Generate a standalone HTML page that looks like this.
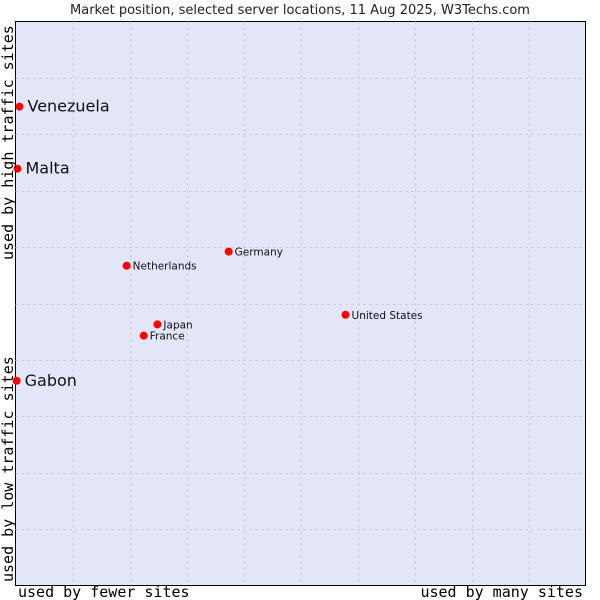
<!DOCTYPE html>
<html><head><meta charset="utf-8"><style>
body{margin:0;background:#fff;width:600px;height:600px;overflow:hidden}
svg{display:block}
</style></head><body>
<svg id="chart" width="600" height="600">
<text x="300" y="14" text-anchor="middle" font-family="DejaVu Sans, sans-serif" font-size="13" fill="#222">Market position, selected server locations, 11 Aug 2025, W3Techs.com</text>
<rect x="15.5" y="21.5" width="570" height="564" fill="#e3e5f8" stroke="#000" stroke-width="1"/>
<g id="grid"></g>
<g id="points"></g>
<text x="18" y="597" font-family="DejaVu Sans Mono, monospace" font-size="15" fill="#000">used by fewer sites</text>
<text x="583" y="597" text-anchor="end" font-family="DejaVu Sans Mono, monospace" font-size="15" fill="#000">used by many sites</text>
<text transform="translate(13,260) rotate(-90)" font-family="DejaVu Sans Mono, monospace" font-size="15" fill="#000">used by high traffic sites</text>
<text transform="translate(13,582) rotate(-90)" font-family="DejaVu Sans Mono, monospace" font-size="15" fill="#000">used by low traffic sites</text>
</svg>
<script>
const countries=["Venezuela","Malta","Gabon","Germany","Netherlands","United States","Japan","France"];
const xValues=[0.7,0.35,0.2,37.4,19.5,57.9,24.9,22.5];
const yValues=[84.9,73.9,36.3,59.2,56.7,48.0,46.3,44.3];
const bigLabel=[true,true,true,false,false,false,false,false];
const L=15.5,R=585.5,T=21.5,B=585.5;
const sx=v=>L+v/100*(R-L);
const sy=v=>B-v/100*(B-T);
const ns="http://www.w3.org/2000/svg";
const grid=document.getElementById('grid');
for(let i=1;i<10;i++){
  const v=document.createElementNS(ns,'line');
  const x=Math.round(sx(i*10))+0.5;
  v.setAttribute('x1',x);v.setAttribute('x2',x);v.setAttribute('y1',T);v.setAttribute('y2',B);
  v.setAttribute('stroke','#c4c4c8');v.setAttribute('stroke-dasharray','2,4');
  
  
  grid.appendChild(v);
  const h=document.createElementNS(ns,'line');
  const y=Math.round(sy(i*10))+0.5;
  h.setAttribute('y1',y);h.setAttribute('y2',y);h.setAttribute('x1',L);h.setAttribute('x2',R);
  h.setAttribute('stroke','#c4c4c8');h.setAttribute('stroke-dasharray','2,4');
  
  
  grid.appendChild(h);
}
const pts=document.getElementById('points');
countries.forEach((c,i)=>{
  const x=sx(xValues[i]),y=sy(yValues[i]);
  const d=document.createElementNS(ns,'circle');
  d.setAttribute('cx',x);d.setAttribute('cy',y);d.setAttribute('r',4);
  d.setAttribute('fill','#f00');
  
  
  pts.appendChild(d);
  const t=document.createElementNS(ns,'text');
  t.setAttribute('x',x+(bigLabel[i]?8:6));
  t.setAttribute('y',y+(bigLabel[i]?5:4));
  t.setAttribute('font-family','DejaVu Sans, sans-serif');
  t.setAttribute('font-size',bigLabel[i]?16:10.5);
  t.setAttribute('fill','#111');
  t.textContent=c;
  
  
  pts.appendChild(t);
});
</script>
</body></html>
